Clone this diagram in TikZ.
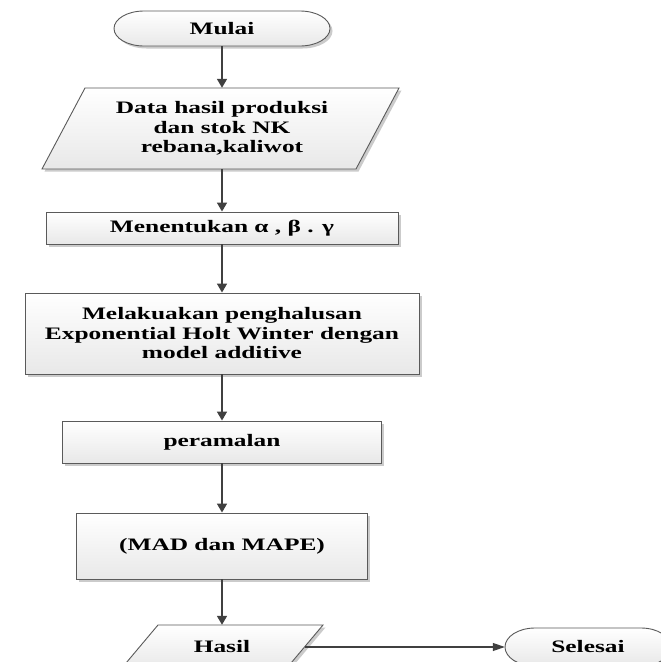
\documentclass[tikz,border=0pt]{standalone}
\usepackage{fontspec}
\newfontfamily\flowfont{Liberation Serif}[FakeStretch=1.45]
\usetikzlibrary{arrows.meta,shadows}

\definecolor{edge}{HTML}{5A5A5A}
\definecolor{wire}{HTML}{404040}

\tikzset{
  x=1pt, y=1pt,
  label text/.style={font=\flowfont\bfseries\fontsize{17.5}{19.5}\selectfont,
    align=center, inner sep=0pt, text=black},
  shapefill/.style={draw=edge, line width=0.9pt, top color=white, bottom color=black!9,
    drop shadow={shadow xshift=2.5pt, shadow yshift=-2.5pt, fill=black!45, opacity=0.45}},
  procbox/.style={label text, shapefill, rectangle},
  flowarrow/.style={draw=wire, line width=1.6pt, -{Triangle[length=9pt,width=10pt]}},
  sidearrow/.style={draw=wire, line width=1.1pt, -{Triangle[length=12pt,width=8pt]}}
}

\begin{document}
\begin{tikzpicture}
\useasboundingbox (0,0) rectangle (661,-662);
\fill[white] (0,0) rectangle (661,-662);
\clip (0,0) rectangle (661,-662);

% start terminal
\path[shapefill] (144,-11) -- (300,-11)
  arc[start angle=90, end angle=-90, x radius=30, y radius=17.5]
  -- (144,-46)
  arc[start angle=270, end angle=90, x radius=30, y radius=17.5] -- cycle;
\node[label text, minimum width=216pt, minimum height=35pt] (mulai) at (222,-28.5) {Mulai};

% input data
\path[shapefill] (85,-88) -- (399,-88) -- (356,-169) -- (42,-169) -- cycle;
\node[label text, minimum height=81pt] (data) at (222,-128.5)
  {Data hasil produksi\\dan stok NK\\rebana,kaliwot};

% processing steps
\node[procbox, minimum width=352pt, minimum height=32pt] (param) at (222,-228)
  {Menentukan α , β . γ};
\node[procbox, minimum width=394pt, minimum height=81pt] (smooth) at (222,-333.5)
  {Melakuakan penghalusan\\Exponential Holt Winter dengan\\model additive};
\node[procbox, minimum width=319pt, minimum height=42pt] (forecast) at (222,-442)
  {peramalan};
\node[procbox, minimum width=291pt, minimum height=66pt] (error) at (222,-546)
  {(MAD dan MAPE)};

% output data
\path[shapefill] (158,-625) -- (323,-625) -- (286,-669) -- (121,-669) -- cycle;
\node[label text, minimum height=44pt] (hasil) at (222,-647) {Hasil};
\coordinate (hasilR) at (304.5,-647);

% end terminal
\path[shapefill] (535,-628) -- (641,-628)
  arc[start angle=90, end angle=-90, x radius=30, y radius=19]
  -- (535,-666)
  arc[start angle=270, end angle=90, x radius=30, y radius=19] -- cycle;
\node[label text, minimum width=166pt, minimum height=38pt] (selesai) at (588,-647) {Selesai};

% connectors
\draw[flowarrow] (mulai.south) -- (data.north);
\draw[flowarrow] (data.south) -- (param.north);
\draw[flowarrow] (param.south) -- (smooth.north);
\draw[flowarrow] (smooth.south) -- (forecast.north);
\draw[flowarrow] (forecast.south) -- (error.north);
\draw[flowarrow] (error.south) -- (hasil.north);
\draw[sidearrow] (hasilR) -- (selesai.west);
\end{tikzpicture}
\end{document}
